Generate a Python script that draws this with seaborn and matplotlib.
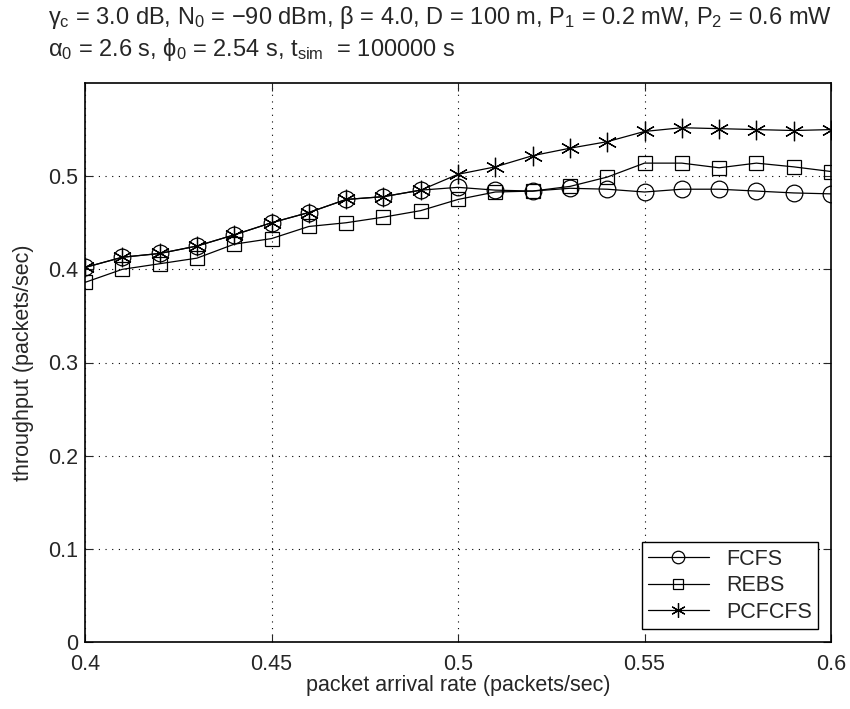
import numpy as np
import pandas as pd
import matplotlib
matplotlib.use("Agg")
import matplotlib.pyplot as plt
import seaborn as sns

arrival_rate = [0.40, 0.41, 0.42, 0.43, 0.44, 0.45, 0.46, 0.47, 0.48, 0.49, 0.50,
                0.51, 0.52, 0.53, 0.54, 0.55, 0.56, 0.57, 0.58, 0.59, 0.60]
fcfs = [0.402, 0.413, 0.417, 0.425, 0.437, 0.450, 0.461, 0.475, 0.478, 0.485, 0.488,
        0.485, 0.484, 0.487, 0.486, 0.483, 0.486, 0.486, 0.484, 0.482, 0.481]
rebs = [0.386, 0.400, 0.406, 0.412, 0.427, 0.433, 0.446, 0.450, 0.456, 0.463, 0.475,
        0.483, 0.484, 0.489, 0.499, 0.514, 0.514, 0.509, 0.514, 0.510, 0.505]
pcfcfs = [0.402, 0.413, 0.417, 0.425, 0.437, 0.450, 0.461, 0.475, 0.478, 0.485, 0.502,
          0.510, 0.522, 0.530, 0.537, 0.548, 0.552, 0.551, 0.550, 0.549, 0.550]
series_names = ["FCFS", "REBS", "PCFCFS"]
x_ticks = [0.4, 0.45, 0.5, 0.55, 0.6]
x_tick_labels = ["0.4", "0.45", "0.5", "0.55", "0.6"]
y_ticks = [0, 0.1, 0.2, 0.3, 0.4, 0.5]
y_tick_labels = ["0", "0.1", "0.2", "0.3", "0.4", "0.5"]

sns.set_style("ticks")
plt.rcParams["font.family"] = ["Liberation Sans", "DejaVu Sans"]
plt.rcParams["mathtext.fontset"] = "custom"
plt.rcParams["mathtext.rm"] = "Liberation Sans"
plt.rcParams["mathtext.it"] = "Liberation Sans"

df = pd.DataFrame({"rate": arrival_rate * 3,
                   "throughput": fcfs + rebs + pcfcfs,
                   "scheme": np.repeat(series_names, len(arrival_rate))})

fig = plt.figure(figsize=(8.5, 7.09), dpi=100)
ax = fig.add_axes([85 / 850, 1 - 642 / 709, 746 / 850, 559 / 709])

markers = {"FCFS": ("o", 12), "REBS": ("s", 9.5), "PCFCFS": ((6, 2, 0), 14)}
for name in series_names:
    m, ms = markers[name]
    sns.lineplot(data=df[df.scheme == name], x="rate", y="throughput", ax=ax,
                 color="black", lw=0.9, marker=m, markersize=ms,
                 mfc="none", mec="black", mew=0.9, label=name)

ax.set_xlim(0.4, 0.6)
ax.set_ylim(0, 0.6)
ax.set_xticks(x_ticks)
ax.set_xticklabels(x_tick_labels)
ax.set_yticks(y_ticks)
ax.set_yticklabels(y_tick_labels)
ax.tick_params(direction="in", top=True, right=True, labelsize=15.5, length=6, width=0.8)
ax.tick_params(axis="x", pad=9)
ax.tick_params(axis="y", pad=5)
ax.grid(True, color="black", linestyle=(0, (1, 5)), linewidth=0.8)
for s in ax.spines.values():
    s.set_linewidth(1.2)
    s.set_color("black")
ax.set_xlabel("packet arrival rate (packets/sec)", fontsize=15.5, labelpad=0)
ax.set_ylabel("throughput (packets/sec)", fontsize=15.5, labelpad=10)

leg = ax.legend(loc="lower right", fontsize=15.5, fancybox=False, framealpha=1,
                edgecolor="black", handlelength=2.8, borderaxespad=0.6,
                labelspacing=0.25, borderpad=0.3, markerscale=0.75)
leg.get_frame().set_linewidth(1.0)

title = (r"$\gamma_\mathrm{c}$ = 3.0 dB, N$_0$ = $-$90 dBm, $\beta$ = 4.0, D = 100 m, "
         r"P$_1$ = 0.2 mW, P$_2$ = 0.6 mW" "\n"
         r"$\alpha_0$ = 2.6 s, $\phi_0$ = 2.54 s, t$_\mathrm{sim}$  = 100000 s")
fig.text(48 / 850, 1 - 4 / 709, title, ha="left", va="top", fontsize=17, linespacing=1.25)

fig.savefig("out.png", dpi=100)
